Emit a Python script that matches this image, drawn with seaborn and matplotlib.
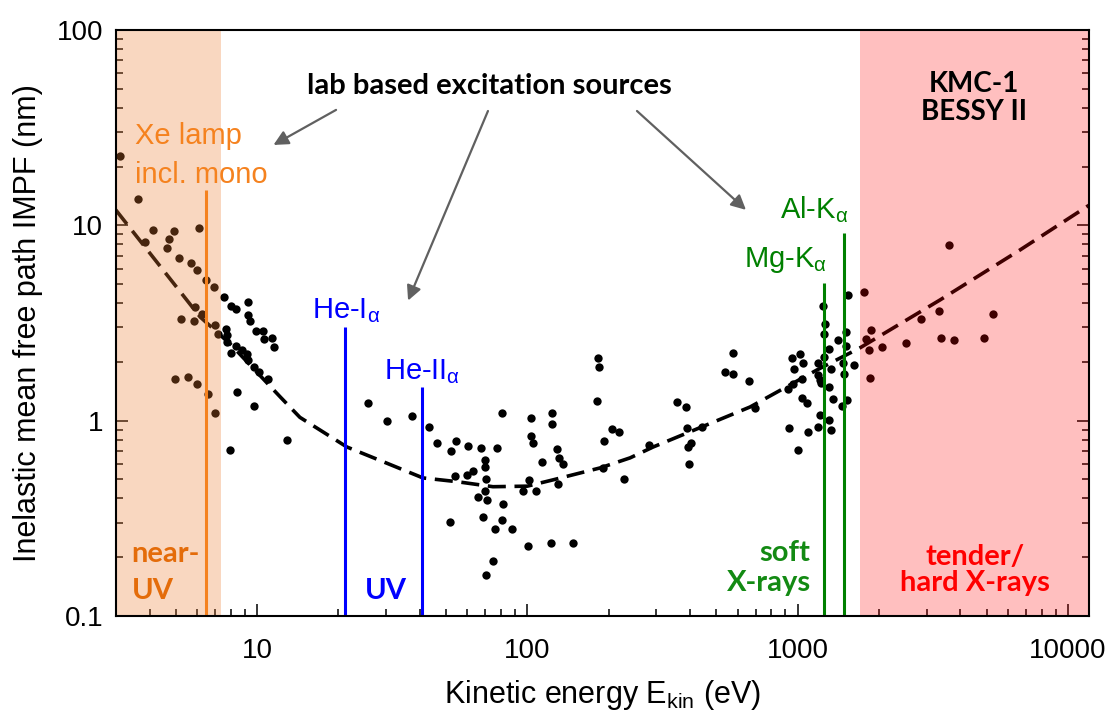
import matplotlib
matplotlib.use("Agg")
import matplotlib.pyplot as plt
import numpy as np
import pandas as pd
import seaborn as sns

# Inelastic mean free path data points (kinetic energy in eV, IMFP in nm)
energy_ev = [
    3.11, 3.63, 3.85, 4.12, 4.72, 4.93, 4.64, 6.10, 5.14, 5.70,
    6.00, 6.47, 6.93, 7.55, 8.01, 8.36, 9.26, 9.26, 9.42, 9.91,
    10.5, 10.6, 11.4, 11.6, 5.90, 5.23, 5.85, 6.26, 6.99, 7.17,
    7.68, 7.74, 7.74, 8.01, 8.36, 8.80, 9.18, 9.26, 9.74, 10.2,
    11.0, 4.97, 5.56, 6.00, 6.59, 6.99, 8.43, 9.74, 7.94, 12.9,
    25.7, 30.3, 37.4, 43.3, 46.3, 52.2, 54.5, 60.4, 67.4, 77.3,
    80.6, 69.7, 69.7, 70.3, 69.7, 65.7, 70.9, 81.3, 54.0, 59.8,
    63.0, 51.8, 68.6, 80.6, 75.9, 87.8, 74.7, 70.3, 100.6, 122,
    148, 96.4, 108, 101.5, 113, 103, 103, 105, 123, 123,
    129, 131, 136, 130, 183, 184, 181, 206, 218, 192,
    191, 228, 282, 358, 387, 390, 443, 403, 393, 397,
    577, 539, 577, 661, 696, 953, 1021, 1047, 970, 1190,
    1038, 962, 922, 1038, 1084, 930, 1093, 1004, 1190, 1211,
    1190, 1537, 1242, 1264, 1253, 1511, 1411, 1511, 1307, 1253,
    1473, 1618, 1330, 1485, 1211, 1221, 1307, 1352, 1524, 1460,
    1307, 1330, 1762, 1870, 1792, 1838, 1854, 2053, 2518, 2862,
    3337, 3394, 3792, 4895, 5284, 3634,
]
imfp_nm = [
    22.7, 13.65, 8.22, 9.47, 8.52, 9.36, 7.66, 9.70, 6.81, 6.42,
    5.91, 5.25, 4.84, 4.30, 3.87, 3.73, 4.05, 3.48, 3.24, 2.88,
    2.88, 2.62, 2.65, 2.38, 3.82, 3.32, 3.24, 3.52, 3.09, 2.78,
    2.95, 2.75, 2.53, 2.22, 2.41, 2.30, 2.20, 2.05, 1.88, 1.78,
    1.64, 1.64, 1.67, 1.54, 1.37, 1.095, 1.40, 1.19, 0.708, 0.797,
    1.23, 0.996, 1.057, 0.928, 0.769, 0.700, 0.787, 0.742, 0.725, 0.725,
    1.095, 0.629, 0.579, 0.503, 0.437, 0.407, 0.393, 0.375, 0.521, 0.527,
    0.553, 0.303, 0.321, 0.310, 0.279, 0.279, 0.191, 0.162, 0.228, 0.237,
    0.237, 0.437, 0.437, 0.497, 0.615, 1.03, 0.835, 0.769, 1.095, 0.962,
    0.716, 0.644, 0.600, 0.474, 2.09, 1.88, 1.26, 0.907, 0.875, 0.787,
    0.573, 0.503, 0.751, 1.25, 1.175, 0.918, 0.928, 0.769, 0.733, 0.600,
    2.22, 1.78, 1.73, 1.60, 1.16, 2.09, 2.20, 1.97, 1.84, 1.97,
    1.64, 1.54, 1.45, 1.31, 1.23, 0.918, 0.875, 0.708, 0.928, 1.07,
    1.71, 4.40, 3.87, 3.13, 2.78, 2.85, 2.59, 2.41, 2.33, 2.12,
    1.97, 1.93, 1.84, 1.73, 1.62, 1.56, 1.49, 1.29, 1.28, 1.19,
    1.008, 0.896, 4.56, 2.91, 2.62, 2.30, 1.65, 2.38, 2.50, 3.32,
    3.65, 2.65, 2.59, 2.65, 3.52, 7.94,
]

# Universal curve (dashed)
curve_ev = [3.0, 6.15, 8.0, 12.2, 14.4, 21.5, 30, 41.1, 55, 74.6, 100,
            124, 186, 240, 292, 667, 1181, 1702, 3365, 6650, 12000]
curve_nm = [12.0, 3.40, 2.45, 1.32, 1.04, 0.733, 0.608, 0.509, 0.487, 0.459, 0.462,
            0.497, 0.573, 0.645, 0.733, 1.175, 1.82, 2.36, 4.15, 7.48, 12.7]

# Lab excitation source lines: photon energy (eV) and line top (nm)
source_names = ["Xe lamp", "He-I", "He-II", "Mg-K", "Al-K"]
source_ev = [6.47, 21.2, 40.8, 1253.6, 1486.6]
source_top_nm = [15.2, 3.03, 1.49, 5.09, 9.18]
source_colors = ["#F5821F", "#0000FF", "#0000FF", "#008000", "#008000"]

# Spectral ranges (eV)
near_uv_range = (3, 7.36)
synchrotron_range = (1700, 12000)

x_ticks = [10, 100, 1000, 10000]
x_tick_labels = ["10", "100", "1000", "10000"]
y_ticks = [0.1, 1, 10, 100]
y_tick_labels = ["0.1", "1", "10", "100"]

sns.set_theme(style="white")
plt.rcParams["font.family"] = ["Liberation Sans", "DejaVu Sans"]
plt.rcParams["mathtext.fontset"] = "custom"
plt.rcParams["mathtext.rm"] = "Liberation Sans"
plt.rcParams["mathtext.it"] = "Liberation Sans"
plt.rcParams["mathtext.bf"] = "Liberation Sans:bold"
plt.rcParams["axes.labelcolor"] = "black"
plt.rcParams["text.color"] = "black"

points = pd.DataFrame({"energy": energy_ev, "imfp": imfp_nm})
curve = pd.DataFrame({"energy": curve_ev, "imfp": curve_nm})

fig = plt.figure(figsize=(11.13, 7.15), dpi=100)
ax = fig.add_axes([0.104, 0.1385, 0.8747, 0.8195])
ax.set_xscale("log")
ax.set_yscale("log")

sns.scatterplot(data=points, x="energy", y="imfp", ax=ax, color="black",
                s=36, linewidth=0, zorder=2, legend=False)
sns.lineplot(data=curve, x="energy", y="imfp", ax=ax, color="black",
             sort=False, estimator=None, lw=2.6, zorder=3,
             dashes=False)
ax.lines[-1].set_dashes((5.0, 2.4))

ax.axvspan(*near_uv_range, color="#ED7D31", alpha=0.3, lw=0, zorder=4)
ax.axvspan(*synchrotron_range, color="#FF0000", alpha=0.25, lw=0, zorder=4)

ax.vlines(source_ev, 0.1, source_top_nm, colors=source_colors, lw=2.2, zorder=5)

ax.set_xlim(3, 12000)
ax.set_ylim(0.1, 100)
ax.set_xticks(x_ticks)
ax.set_xticklabels(x_tick_labels)
ax.set_yticks(y_ticks)
ax.set_yticklabels(y_tick_labels)

for s in ax.spines.values():
    s.set_color("black")
    s.set_linewidth(1.5)
    s.set_zorder(7)
ax.tick_params(which="both", direction="in", top=False, right=True,
               bottom=True, left=True, color="black", width=1.1,
               labelsize=20, labelcolor="black")
ax.tick_params(which="major", length=8.5)
ax.tick_params(which="minor", length=5)
ax.tick_params(axis="y", pad=9)
ax.tick_params(axis="x", pad=16)

ax.set_xlabel("Kinetic energy E$_{\\mathrm{kin}}$ (eV)", fontsize=22, labelpad=10,
              color="black")
ax.set_ylabel("Inelastic mean free path IMPF (nm)", fontsize=22, labelpad=10,
              color="black")

tr = ax.transAxes
bold = dict(family=["Lato", "DejaVu Sans"], weight="bold", zorder=8)

# Source labels
ax.text(0.0198, 0.8055, "Xe lamp", color="#F5821F", fontsize=21, transform=tr, va="baseline", zorder=8)
ax.text(0.0198, 0.739, "incl. mono", color="#F5821F", fontsize=21, transform=tr, va="baseline", zorder=8)
ax.text(0.2014, 0.5085, "He-I$_{α}$", color="#0000FF", fontsize=21, transform=tr, va="baseline", zorder=8)
ax.text(0.2756, 0.4044, "He-II$_{α}$", color="#0000FF", fontsize=21, transform=tr, va="baseline", zorder=8)
ax.text(0.6453, 0.595, "Mg-K$_{α}$", color="#008000", fontsize=21, transform=tr, va="baseline", zorder=8)
ax.text(0.6823, 0.6797, "Al-K$_{α}$", color="#008000", fontsize=21, transform=tr, va="baseline", zorder=8)

# Range labels
ax.text(0.0164, 0.0927, "near-", color="#E46C0A", fontsize=21, transform=tr, va="baseline", **bold)
ax.text(0.0164, 0.029, "UV", color="#E46C0A", fontsize=21, transform=tr, va="baseline", **bold)
ax.text(0.256, 0.029, "UV", color="#0000FF", fontsize=21, transform=tr, va="baseline", **bold)
ax.text(0.7138, 0.0939, "soft", color="#138A13", fontsize=21, transform=tr, va="baseline", ha="right", **bold)
ax.text(0.7138, 0.0432, "X-rays", color="#138A13", fontsize=21, transform=tr, va="baseline", ha="right", **bold)
ax.text(0.8826, 0.087, "tender/", color="#FF0000", fontsize=21, transform=tr, va="baseline", ha="center", **bold)
ax.text(0.8826, 0.0432, "hard X-rays", color="#FF0000", fontsize=21, transform=tr, va="baseline", ha="center", **bold)
ax.text(0.882, 0.8947, "KMC-1", color="black", fontsize=20, transform=tr, va="baseline", ha="center", **bold)
ax.text(0.882, 0.8464, "BESSY II", color="black", fontsize=20, transform=tr, va="baseline", ha="center", **bold)

ax.text(0.3834, 0.8903, "lab based excitation sources", color="black", fontsize=21,
        transform=tr, va="baseline", ha="center", **bold)

arrow = dict(arrowstyle="-|>", color="#606060", lw=1.6, mutation_scale=22,
             shrinkA=0, shrinkB=0)
for start, tip in [((19.6, 39.0), (11.5, 25.8)),
                   ((71.5, 38.5), (36.2, 4.12)),
                   ((254.5, 38.5), (644, 12.0))]:
    ax.annotate("", xy=tip, xytext=start, arrowprops=arrow, zorder=8)

fig.savefig("out.png", dpi=100)
